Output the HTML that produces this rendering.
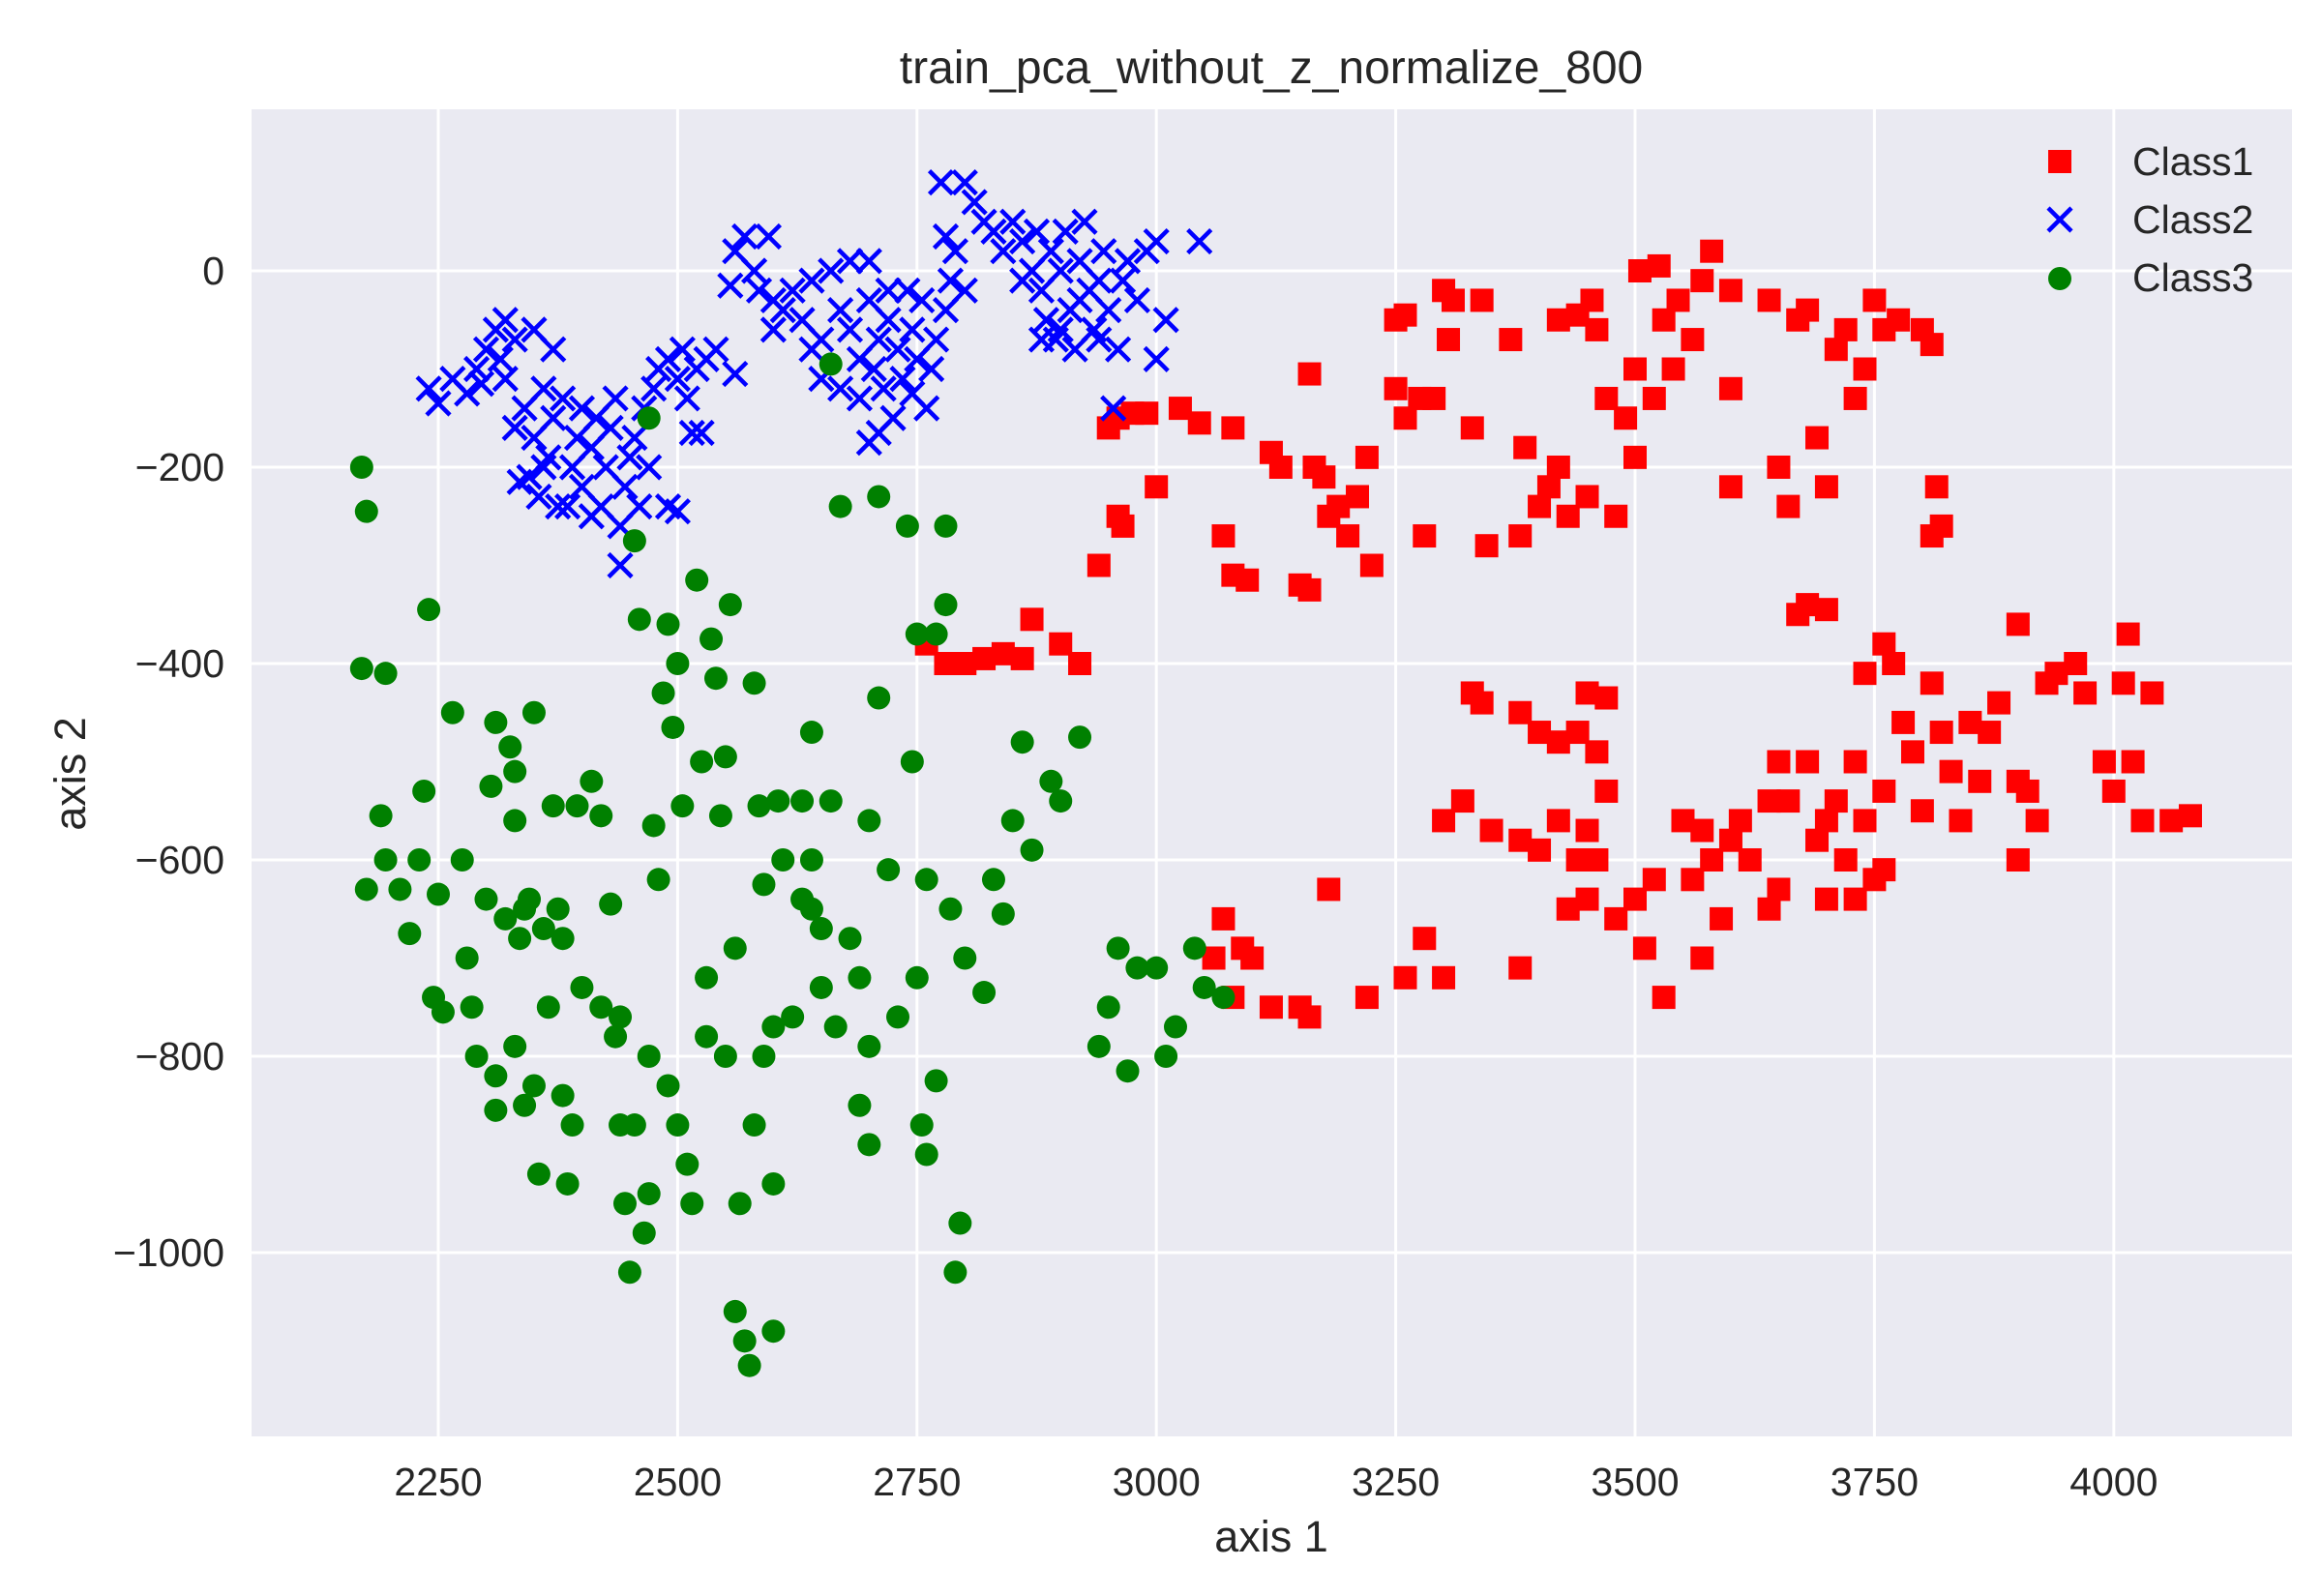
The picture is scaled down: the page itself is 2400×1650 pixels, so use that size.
<!DOCTYPE html>
<html><head><meta charset="utf-8">
<style>
html,body{margin:0;padding:0;background:#fff;}
svg{display:block;font-family:"Liberation Sans",Arial,sans-serif;}
</style></head>
<body>
<svg id="chart" width="2400" height="1650" viewBox="0 0 2400 1650" xmlns="http://www.w3.org/2000/svg">
<rect x="0" y="0" width="2400" height="1650" fill="#ffffff"/>
<rect x="260" y="113" width="2109" height="1372" fill="#EAEAF2"/>
<g id="grid"></g>
<g id="marks"></g>
<g id="ticks"></g>
<text x="1314" y="86" font-size="48" fill="#262626" text-anchor="middle">train_pca_without_z_normalize_800</text>
<text x="1314" y="1604" font-size="45" fill="#262626" text-anchor="middle">axis 1</text>
<text x="0" y="0" font-size="45" fill="#262626" text-anchor="middle" transform="translate(88,800) rotate(-90)">axis 2</text>
<g>
  <g>
    <rect x="2117" y="155" width="24" height="24" fill="#FF0000"/>
    <text x="2204" y="181" font-size="41" fill="#262626">Class1</text>
  </g>
  <g>
    <path d="M2117 215 L2141 239 M2141 215 L2117 239" stroke="#0000FF" stroke-width="4.5"/>
    <text x="2204" y="241" font-size="41" fill="#262626">Class2</text>
  </g>
  <g>
    <circle cx="2129" cy="288" r="12" fill="#008000"/>
    <text x="2204" y="301" font-size="41" fill="#262626">Class3</text>
  </g>
</g>
</svg>
<script>
const xTicks = [2250,2500,2750,3000,3250,3500,3750,4000];
const yTicks = [0,-200,-400,-600,-800,-1000];
const yTickLabels = ["0","\u2212200","\u2212400","\u2212600","\u2212800","\u22121000"];

const class1X = [2950,2960,2975,2990,3000,2960,2965,2940,3025,3045,3080,3070,3080,3095,3120,3130,3150,3160,3160,3165,3175,3180,3190,3200,3210,3220,3225,3250,3260,3250,3260,3275,3280,3290,3300,3305,3310,3330,3340,3345,3370,3380,3385,3400,3410,3420,3420,3430,3440,3450,3455,3460,3470,3480,3490,3500,3500,3505,3520,3525,3530,3540,3545,3560,3570,3580,3600,3600,3600,3640,3650,3660,3670,3680,3690,3700,3710,3720,3730,3740,3750,3760,3775,3800,3810,3815,3810,3820,3680,3700,3670,
2760,2780,2800,2820,2840,2860,2870,2900,2920,3330,3340,3380,3400,3420,3440,3450,3470,3460,3300,3320,3350,3380,3400,3420,3440,3450,3460,3470,3430,3450,3480,3500,3510,3520,3530,3550,3560,3570,3580,3590,3600,3610,3620,3640,3650,3660,3680,3690,3700,3710,3720,3730,3740,3750,3760,3770,3760,3740,3780,3790,3800,3810,3820,3830,3840,3850,3860,3870,3880,3900,3910,3900,3920,3930,3940,3960,3970,3990,4000,4010,4015,4020,4030,4040,4060,4080,3900,3640,3650,3700,3730,3760,3380,3570,3180,3220,3260,3280,3300,3150,3160,3120,3100,3080,3070,3060,3090];
const class1Y = [-160,-150,-145,-145,-220,-250,-260,-300,-140,-155,-160,-270,-310,-315,-185,-200,-320,-325,-105,-200,-210,-250,-240,-270,-230,-190,-300,-50,-45,-120,-150,-130,-270,-130,-20,-70,-30,-160,-30,-280,-70,-270,-180,-240,-220,-200,-50,-250,-45,-230,-30,-60,-130,-250,-150,-100,-190,0,-130,5,-50,-100,-30,-70,-10,20,-20,-120,-220,-30,-200,-240,-50,-40,-170,-220,-80,-60,-130,-100,-30,-60,-50,-60,-75,-220,-270,-260,-340,-345,-350,
-380,-400,-400,-395,-390,-395,-355,-380,-400,-430,-440,-450,-470,-480,-470,-430,-435,-490,-560,-540,-570,-580,-590,-560,-600,-570,-600,-530,-650,-640,-660,-640,-690,-620,-740,-560,-620,-570,-600,-660,-580,-560,-600,-540,-500,-540,-500,-580,-560,-540,-600,-500,-560,-620,-530,-400,-380,-410,-460,-490,-550,-420,-470,-510,-560,-460,-520,-470,-440,-520,-530,-360,-560,-420,-410,-400,-430,-500,-530,-420,-370,-500,-560,-430,-560,-555,-600,-650,-630,-640,-640,-610,-710,-700,-630,-740,-720,-680,-720,-750,-760,-750,-700,-740,-660,-700,-690];

const class2X = [2240,2250,2265,2280,2290,2300,2310,2320,2330,2315,2295,2330,2340,2350,2345,2355,2365,2370,2380,2375,2390,2395,2400,2410,2415,2420,2425,2430,2435,2440,2445,2450,2455,2460,2465,2470,2475,2480,2490,2500,2505,2510,2520,2530,2540,2560,2500,2490,2350,2370,2320,2360,2400,2385,2410,2525,2515,2360,2335,2440,
2560,2570,2595,2580,2585,2600,2610,2620,2630,2640,2650,2660,2670,2680,2690,2700,2705,2710,2715,2720,2725,2730,2735,2740,2745,2750,2755,2760,2765,2770,2780,2785,2790,2800,2775,2800,2780,2700,2710,2650,2640,2600,2555,2680,2700,2690,2720,2670,2745,
2810,2820,2830,2840,2850,2860,2870,2875,2880,2885,2890,2895,2900,2905,2910,2915,2920,2925,2930,2935,2940,2945,2950,2960,2965,2970,2980,2990,3000,3010,3000,3045,2955,2880,2860,2900,2940,2920];
const class2Y = [-120,-135,-110,-125,-100,-80,-60,-50,-70,-90,-115,-160,-140,-170,-210,-230,-190,-150,-130,-240,-200,-170,-220,-180,-150,-240,-200,-160,-130,-300,-220,-190,-170,-240,-140,-200,-120,-100,-90,-110,-80,-130,-100,-90,-80,-105,-245,-240,-60,-80,-110,-120,-140,-240,-250,-165,-165,-200,-215,-260,
20,35,35,0,-20,-30,-40,-20,-50,-10,-70,0,-40,-60,-90,-30,-100,-70,-120,-50,-150,-80,-110,-20,-60,-90,-30,-140,-100,-70,-40,-10,20,-20,90,90,35,-175,-165,-110,-80,-60,-15,10,10,-130,-20,-120,-125,
70,50,40,20,50,30,0,40,-20,-50,20,-70,0,40,-40,-80,10,50,-20,-60,-10,20,-40,-80,-10,10,-30,20,30,-50,-90,30,-140,-70,-10,-60,-70,-30];

const class3X = [2170,2175,2170,2195,2190,2195,2175,2210,2220,2230,2235,2240,2250,2245,2255,2265,2275,2280,2285,2290,2300,2305,2310,2310,2310,2320,2325,2330,2335,2340,2345,2350,2355,2360,2365,2370,2375,2380,2385,2390,2395,2400,2410,2420,2430,2435,2440,2445,2450,2455,2460,2465,2470,2475,2480,2485,2490,2495,2500,2505,2510,2515,2520,2525,2530,2535,2540,2545,2550,2555,2560,2565,2570,2575,2580,2585,2590,2600,2605,2610,2620,2630,2640,2650,2660,2665,2670,2680,2690,2700,2710,2710,2720,2730,2740,2745,2750,2755,2760,2770,2780,2785,2790,2795,2800,2820,2830,2840,2850,2860,2870,2890,2900,2920,2940,2950,2960,2970,2980,3000,3010,3020,3040,3050,3070,2470,2660,2455,2770,2780,2750,2650,2630,2640,2600,2560,2580,2490,2500,2470,2440,2420,2380,2350,2330,2340,2330,2530,2550,2590,2600,2690,2700,2760,2640,2700];
const class3Y = [-200,-245,-405,-410,-555,-600,-630,-630,-675,-600,-530,-345,-635,-740,-755,-450,-600,-700,-750,-800,-640,-525,-460,-820,-855,-660,-485,-510,-680,-650,-640,-450,-920,-670,-750,-545,-650,-680,-930,-870,-545,-730,-520,-555,-645,-780,-760,-950,-1020,-870,-355,-980,-940,-565,-620,-430,-360,-465,-400,-545,-910,-950,-315,-500,-720,-375,-415,-555,-495,-340,-1060,-950,-1090,-1115,-420,-545,-625,-1080,-540,-600,-760,-540,-470,-730,-540,-770,-240,-680,-850,-890,-435,-230,-610,-760,-260,-500,-720,-870,-900,-825,-260,-650,-1020,-970,-700,-735,-620,-655,-560,-480,-590,-520,-540,-475,-790,-750,-690,-815,-710,-710,-800,-770,-690,-730,-740,-150,-95,-275,-370,-340,-370,-670,-640,-600,-770,-690,-870,-830,-870,-800,-870,-750,-840,-830,-790,-850,-560,-780,-800,-800,-930,-720,-790,-620,-650,-560];

const NS = "http://www.w3.org/2000/svg";
const PL = 260, PR = 2369, PT = 113, PB = 1485;
function xs(v){ return 453 + (v - 2250) * 247.4 / 250; }
function ys(v){ return 280 - v * 203 / 200; }

const grid = document.getElementById('grid');
const ticks = document.getElementById('ticks');
const marks = document.getElementById('marks');

xTicks.forEach(function(t){
  const l = document.createElementNS(NS,'line');
  l.setAttribute('x1', xs(t)); l.setAttribute('x2', xs(t));
  l.setAttribute('y1', PT); l.setAttribute('y2', PB);
  l.setAttribute('stroke', '#ffffff'); l.setAttribute('stroke-width', '3');
  
  
  grid.appendChild(l);
  const tx = document.createElementNS(NS,'text');
  tx.setAttribute('x', xs(t)); tx.setAttribute('y', 1546);
  tx.setAttribute('font-size', '41'); tx.setAttribute('fill', '#262626');
  tx.setAttribute('text-anchor', 'middle');
  tx.textContent = String(t);
  
  
  ticks.appendChild(tx);
});
yTicks.forEach(function(t, i){
  const l = document.createElementNS(NS,'line');
  l.setAttribute('x1', PL); l.setAttribute('x2', PR);
  l.setAttribute('y1', ys(t)); l.setAttribute('y2', ys(t));
  l.setAttribute('stroke', '#ffffff'); l.setAttribute('stroke-width', '3');
  
  
  grid.appendChild(l);
  const tx = document.createElementNS(NS,'text');
  tx.setAttribute('x', 232); tx.setAttribute('y', ys(t) + 14);
  tx.setAttribute('font-size', '41'); tx.setAttribute('fill', '#262626');
  tx.setAttribute('text-anchor', 'end');
  tx.textContent = yTickLabels[i];
  
  
  ticks.appendChild(tx);
});

class1X.forEach(function(v, i){
  const r = document.createElementNS(NS,'rect');
  r.setAttribute('x', xs(v) - 12); r.setAttribute('y', ys(class1Y[i]) - 12);
  r.setAttribute('width', 24); r.setAttribute('height', 24);
  r.setAttribute('fill', '#FF0000');
  
  
  marks.appendChild(r);
});
class2X.forEach(function(v, i){
  const cx = xs(v), cy = ys(class2Y[i]);
  const p = document.createElementNS(NS,'path');
  p.setAttribute('d', 'M'+(cx-12)+' '+(cy-12)+' L'+(cx+12)+' '+(cy+12)+' M'+(cx+12)+' '+(cy-12)+' L'+(cx-12)+' '+(cy+12));
  p.setAttribute('stroke', '#0000FF'); p.setAttribute('stroke-width', '4.5');
  
  
  marks.appendChild(p);
});
class3X.forEach(function(v, i){
  const c = document.createElementNS(NS,'circle');
  c.setAttribute('cx', xs(v)); c.setAttribute('cy', ys(class3Y[i]));
  c.setAttribute('r', 12);
  c.setAttribute('fill', '#008000');
  
  
  marks.appendChild(c);
});
</script>
</body></html>
